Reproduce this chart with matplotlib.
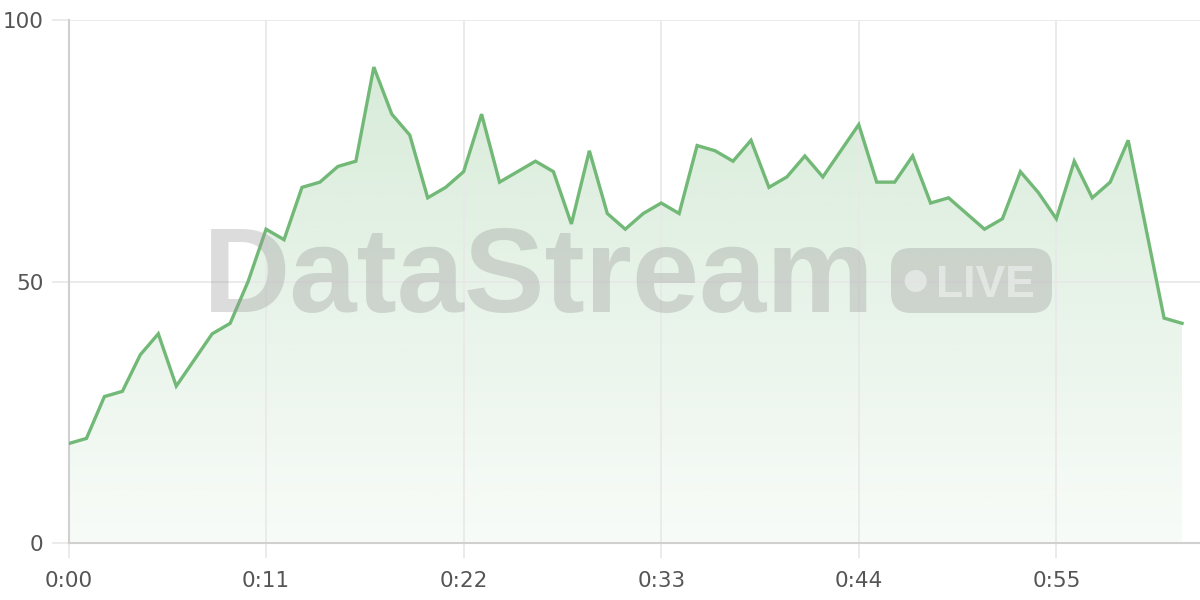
import matplotlib

matplotlib.use("Agg")
import matplotlib.pyplot as plt
import matplotlib.transforms as mtransforms
import numpy as np
from matplotlib.patches import Circle, FancyBboxPatch

# seconds since start and the sampled value
seconds = list(range(63))
values = [
    19, 20, 28, 29, 36, 40, 30, 35, 40, 42, 50, 60, 58, 68, 69, 72, 73, 91, 82, 78,
    66, 68, 71, 82, 69, 71, 73, 71, 61, 75, 63, 60, 63, 65, 63, 76, 75, 73, 77, 68,
    70, 74, 70, 75, 80, 69, 69, 74, 65, 66, 63, 60, 62, 71, 67, 62, 73, 66, 69, 77,
    60, 43, 42,
]
x_ticks = [0, 11, 22, 33, 44, 55]
x_tick_labels = ["0:00", "0:11", "0:22", "0:33", "0:44", "0:55"]
y_ticks = [0, 50, 100]
y_tick_labels = ["0", "50", "100"]

LINE = "#72b977"
GRID = "#e8e8e8"
AXIS = "#d0d0d0"
LABEL = "#555555"

plt.rcParams["font.family"] = ["DejaVu Sans"]

W, H = 1200, 600
fig = plt.figure(figsize=(12, 6), dpi=100)
ax = fig.add_axes([68.5 / W, 57 / H, 1 - 68.5 / W, (543 - 20) / H])
ax.set_xlim(0, 63)
ax.set_ylim(0, 100)

# grid
ax.set_xticks(x_ticks)
ax.set_xticklabels(x_tick_labels)
ax.set_yticks(y_ticks)
ax.set_yticklabels(y_tick_labels)
ax.grid(True, color=GRID, linewidth=1.2, zorder=0)
for side in ("top", "right"):
    ax.spines[side].set_visible(False)
for side in ("left", "bottom"):
    ax.spines[side].set_color(AXIS)
    ax.spines[side].set_linewidth(1.5)
ax.tick_params(axis="y", length=12, width=1.2, color=GRID, pad=6,
               labelsize=15.5, labelcolor=LABEL)
ax.tick_params(axis="x", length=11, width=1.2, color=GRID, pad=9,
               labelsize=15.5, labelcolor=LABEL)

# gradient fill under the line
poly = ax.fill_between(seconds, values, 0, color="none", linewidth=0, zorder=1)
green = np.array(matplotlib.colors.to_rgb(LINE))
grad = np.zeros((256, 1, 4))
grad[:, 0, :3] = green
grad[:, 0, 3] = np.linspace(0.30, 0.05, 256)
img = ax.imshow(grad, extent=[0, seconds[-1], 0, 100], origin="upper",
                aspect="auto", zorder=1)
img.set_clip_path(poly.get_paths()[0], transform=ax.transData)

# watermark
ident = mtransforms.IdentityTransform()
fig.text(203, H - 311.7, "DataStream", transform=ident, fontsize=87,
         fontweight="bold", family="Liberation Sans", color="#999999",
         alpha=0.34, va="baseline", ha="left", zorder=5)
badge = FancyBboxPatch((891, H - 313), 161, 65,
                       boxstyle="round,pad=0,rounding_size=20",
                       transform=ident, facecolor="#999999", alpha=0.34,
                       edgecolor="none", zorder=5)
fig.patches.append(badge)
fig.patches.append(Circle((915.7, H - 281), 11, transform=ident,
                          facecolor="white", alpha=0.45, edgecolor="none", zorder=6))
fig.text(936, H - 297, "LIVE", transform=ident, fontsize=32, fontweight="bold",
         family="Liberation Sans", color="white", alpha=0.45,
         va="baseline", ha="left", zorder=6)

ax.plot(seconds, values, color=LINE, linewidth=2.4, solid_joinstyle="miter",
        zorder=7)

fig.savefig("out.png", dpi=100)
